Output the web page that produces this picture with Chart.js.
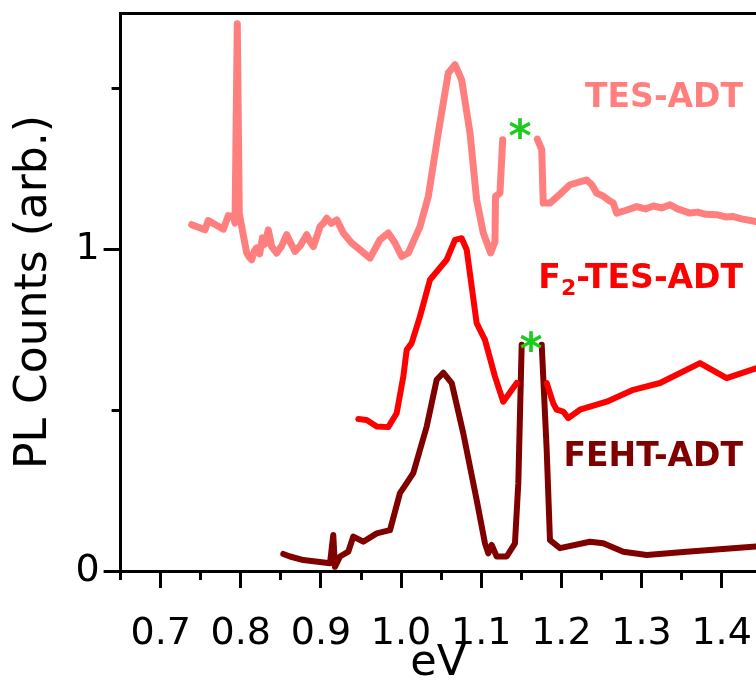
<!DOCTYPE html>
<html>
<head>
<meta charset="utf-8">
<script src="https://cdn.jsdelivr.net/npm/chart.js@4/dist/chart.umd.min.js"></script>
<style>
  html, body { margin: 0; padding: 0; background: #fff; }
  canvas { display: block; }
</style>
</head>
<body>
<canvas id="plChart" width="756" height="681"></canvas>
<script>
// PL spectra (eV vs arbitrary counts, offset per sample)
// null = laser line removed (gap in the trace)
const energyTES = [0.7387, 0.7553, 0.7594, 0.7782, 0.7844, 0.7906, 0.7928, 0.7956, 0.7981, 0.8011,
  0.8074, 0.8105, 0.8136, 0.8170, 0.8198, 0.8235, 0.8270, 0.8300, 0.8343, 0.8385,
  0.8448, 0.8510, 0.8573, 0.8620, 0.8676, 0.8740, 0.8822, 0.8860, 0.8905, 0.8950,
  0.8988, 0.9030, 0.9072, 0.9130, 0.9197, 0.9240, 0.9279, 0.9380, 0.9487, 0.9550,
  0.9612, 0.9737, 0.9840, 0.9924, 1.0008, 1.0090, 1.0236, 1.0340, 1.0464, 1.0589,
  1.0673, 1.0756, 1.0860, 1.0943, 1.1026, 1.1118, 1.1172, 1.1178, 1.1234, 1.1268,
  1.1480, 1.1700, 1.1755, 1.1774, 1.1858, 1.1980, 1.2108, 1.2316, 1.2380, 1.2441,
  1.2520, 1.2600, 1.2648, 1.2690, 1.2800, 1.2940, 1.3050, 1.3150, 1.3250, 1.3356,
  1.3450, 1.3605, 1.3700, 1.3800, 1.3938, 1.4050, 1.4145, 1.4250, 1.4429];
const countsTES = [1.076, 1.060, 1.089, 1.062, 1.104, 1.101, 1.081, 1.700, 1.112, 1.070,
  0.988, 0.975, 0.967, 0.995, 1.004, 0.985, 1.035, 1.015, 1.060, 1.008,
  0.988, 1.010, 1.045, 1.020, 0.993, 1.010, 1.045, 1.025, 1.008, 1.040,
  1.070, 1.080, 1.096, 1.080, 1.091, 1.070, 1.050, 1.020, 0.998, 0.985,
  0.972, 1.029, 1.050, 1.019, 0.977, 0.988, 1.070, 1.164, 1.361, 1.547,
  1.573, 1.526, 1.361, 1.153, 1.050, 0.988, 1.024, 1.164, 1.174, 1.340,
  null, 1.342, 1.309, 1.143, 1.143, 1.170, 1.200, 1.215, 1.200, 1.174,
  1.165, 1.150, 1.143, 1.112, 1.120, 1.132, 1.125, 1.134, 1.128, 1.138,
  1.125, 1.112, 1.115, 1.108, 1.107, 1.100, 1.101, 1.094, 1.086];

const energyF2 = [0.9466, 0.9571, 0.9696, 0.9840, 0.9945, 1.0028, 1.0070, 1.0132, 1.0236, 1.0361,
  1.0569, 1.0673, 1.0756, 1.0819, 1.0943, 1.1047, 1.1172, 1.1275, 1.1443, 1.1630,
  1.1817, 1.1899, 1.1942, 1.2024, 1.2087, 1.2232, 1.2566, 1.2898, 1.3231, 1.3730,
  1.4063, 1.4429];
const countsF2 = [0.472, 0.469, 0.449, 0.447, 0.490, 0.604, 0.687, 0.708, 0.791, 0.905,
  0.967, 1.029, 1.034, 0.998, 0.770, 0.718, 0.604, 0.526, 0.584, null,
  0.584, 0.521, 0.501, 0.495, 0.475, 0.501, 0.526, 0.563, 0.584, 0.646,
  0.599, 0.630];

const energyFEHT = [0.8530, 0.8614, 0.8780, 0.9113, 0.9154, 0.9175, 0.9238, 0.9341, 0.9404, 0.9528,
  0.9696, 0.9862, 0.9986, 1.0070, 1.0152, 1.0320, 1.0444, 1.0527, 1.0632, 1.0776,
  1.0943, 1.1047, 1.1088, 1.1131, 1.1193, 1.1318, 1.1421, 1.1463, 1.1505, 1.1630,
  1.1755, 1.1817, 1.1858, 1.1983, 1.2357, 1.2523, 1.2773, 1.3065, 1.3564, 1.4429];
const countsFEHT = [0.053, 0.045, 0.034, 0.024, 0.112, 0.013, 0.045, 0.060, 0.107, 0.091,
  0.117, 0.127, 0.242, 0.273, 0.304, 0.449, 0.594, 0.616, 0.584, 0.428,
  0.221, 0.086, 0.055, 0.081, 0.045, 0.045, 0.086, 0.273, 0.703, null,
  0.703, 0.376, 0.096, 0.071, 0.091, 0.086, 0.060, 0.050, 0.060, 0.076];

const seriesNames = ["TES-ADT", "F2-TES-ADT", "FEHT-ADT"];
const seriesColors = ["#ff7f7f", "#ff0000", "#800000"];

const xMin = 0.65, xMax = 1.4429;
const yMin = 0, yMax = 1.7336;

const toPoints = (xs, ys) => xs.map((v, i) => ({ x: v, y: ys[i] }));

// text labels and the green markers for the laser line
const curveLabels = {
  id: "curveLabels",
  afterDatasetsDraw(chart) {
    const { ctx, scales: { x, y } } = chart;
    const size = 33;
    const cap = size * 0.729;
    const right = x.getPixelForValue(1.4267);
    ctx.save();
    ctx.font = "bold " + size + "px 'DejaVu Sans'";
    ctx.textBaseline = "alphabetic";

    // TES-ADT
    ctx.fillStyle = seriesColors[0];
    ctx.textAlign = "right";
    ctx.fillText("TES-ADT", right, y.getPixelForValue(1.4797) + cap / 2);

    // F2-TES-ADT with subscript
    const base2 = y.getPixelForValue(0.9155) + cap / 2;
    ctx.fillStyle = seriesColors[1];
    ctx.textAlign = "left";
    const wF = ctx.measureText("F").width;
    const wRest = ctx.measureText("-TES-ADT").width;
    ctx.font = "bold 22px 'DejaVu Sans'";
    const w2 = ctx.measureText("2").width;
    let left = right - wF - w2 - wRest;
    ctx.font = "bold " + size + "px 'DejaVu Sans'";
    ctx.fillText("F", left, base2);
    ctx.font = "bold 22px 'DejaVu Sans'";
    ctx.fillText("2", left + wF, base2 + 7);
    ctx.font = "bold " + size + "px 'DejaVu Sans'";
    ctx.fillText("-TES-ADT", left + wF + w2, base2);

    // FEHT-ADT
    ctx.fillStyle = seriesColors[2];
    ctx.textAlign = "right";
    ctx.fillText("FEHT-ADT", right, y.getPixelForValue(0.3637) + cap / 2);

    // asterisks
    ctx.fillStyle = "#1ccc1c";
    ctx.textAlign = "center";
    ctx.font = "bold 44px 'DejaVu Sans'";
    [[1.1484, 1.380], [1.1621, 0.718]].forEach(([ex, cy]) => {
      ctx.fillText("*", x.getPixelForValue(ex), y.getPixelForValue(cy) + 44 * 0.55);
    });
    ctx.restore();
  }
};

const lineStyle = {
  borderWidth: 6,
  pointRadius: 0,
  tension: 0,
  spanGaps: false,
  borderJoinStyle: "round",
  borderCapStyle: "round",
  fill: false,
};

const tickFont = { family: "'DejaVu Sans'", size: 38 };

// keep label overhang from pushing the plot area around
const noPad = (s) => { s.paddingTop = 0; s.paddingBottom = 0; s.paddingLeft = 0; s.paddingRight = 0; };

new Chart(document.getElementById("plChart"), {
  type: "line",
  data: {
    datasets: [
      { label: seriesNames[0], data: toPoints(energyTES, countsTES), borderColor: seriesColors[0], ...lineStyle, borderWidth: 7 },
      { label: seriesNames[1], data: toPoints(energyF2, countsF2), borderColor: seriesColors[1], ...lineStyle },
      { label: seriesNames[2], data: toPoints(energyFEHT, countsFEHT), borderColor: seriesColors[2], ...lineStyle },
    ],
  },
  options: {
    responsive: false,
    animation: false,
    events: [],
    layout: { padding: { top: 13, left: 0, right: 0, bottom: 0 } },
    plugins: { legend: { display: false }, tooltip: { enabled: false } },
    scales: {
      // minor ticks (short, no labels)
      xMinor: {
        type: "linear", position: "bottom", weight: 0,
        min: xMin, max: xMax,
        grid: { drawOnChartArea: false, tickLength: 9, tickWidth: 3, tickColor: "#000" },
        border: { color: "#000", width: 3 },
        ticks: { stepSize: 0.05, includeBounds: false, autoSkip: false, callback: () => "", font: { size: 1 } },
        afterFit: (s) => { s.height = 0; noPad(s); },
      },
      x: {
        type: "linear", position: "bottom", weight: 1,
        min: xMin, max: xMax,
        grid: { drawOnChartArea: false, tickLength: 17, tickWidth: 3, tickColor: "#000" },
        border: { color: "#000", width: 3 },
        ticks: {
          stepSize: 0.1, includeBounds: false, autoSkip: false, maxRotation: 0,
          color: "#000", font: tickFont, padding: 23,
          callback: (v) => v.toFixed(1),
        },
        title: {
          display: true, text: "eV", color: "#000",
          font: { family: "'DejaVu Sans'", size: 43, lineHeight: 0.8 },
          padding: { top: 0, bottom: 0 },
        },
        afterFit: (s) => { s.height = 110; noPad(s); },
      },
      xTop: {
        type: "linear", position: "top",
        min: xMin, max: xMax,
        grid: { drawOnChartArea: false, drawTicks: false },
        border: { color: "#000", width: 3 },
        ticks: { display: false },
        afterFit: (s) => { s.height = 0; noPad(s); },
      },
      yMinor: {
        type: "linear", position: "left", weight: 0,
        min: yMin, max: yMax,
        grid: { drawOnChartArea: false, tickLength: 9, tickWidth: 3, tickColor: "#000" },
        border: { color: "#000", width: 3 },
        ticks: { stepSize: 0.5, includeBounds: false, callback: () => "", font: { size: 1 } },
        afterFit: (s) => { s.width = 0; noPad(s); },
      },
      y: {
        type: "linear", position: "left", weight: 1,
        min: yMin, max: yMax,
        grid: { drawOnChartArea: false, tickLength: 17, tickWidth: 3, tickColor: "#000" },
        border: { color: "#000", width: 3 },
        ticks: { stepSize: 1, includeBounds: false, color: "#000", font: tickFont, padding: 4 },
        title: {
          display: true, text: "PL Counts (arb.)", color: "#000",
          font: { family: "'DejaVu Sans'", size: 44, lineHeight: 0.8 },
          padding: { top: 17, bottom: 0 },
        },
        afterFit: (s) => { s.width = 120.6; noPad(s); },
      },
    },
  },
  plugins: [curveLabels],
});
</script>
</body>
</html>
